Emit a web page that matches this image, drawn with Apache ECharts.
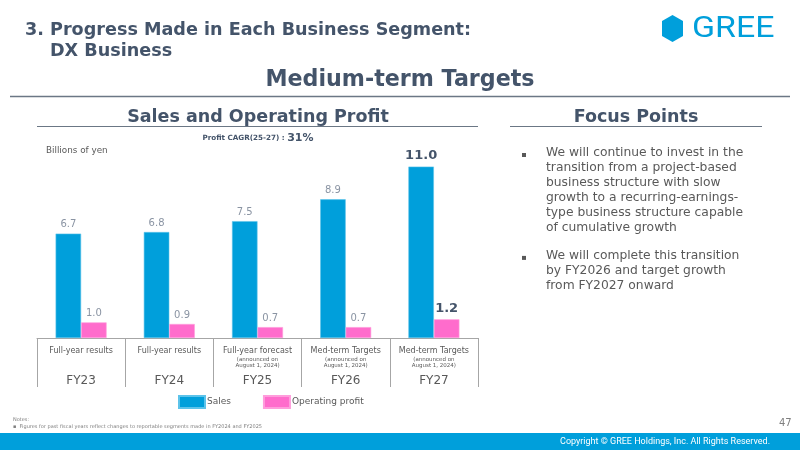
<!DOCTYPE html>
<html>
<head>
<meta charset="utf-8">
<script src="https://cdn.jsdelivr.net/npm/echarts@6/dist/echarts.min.js"></script>
<style>
  html, body { margin: 0; padding: 0; background: #fff; }
  #main { width: 800px; height: 450px; }
</style>
</head>
<body>
<div id="main"></div>
<script>
// data
var periods = ['Full-year results', 'Full-year results', 'Full-year forecast', 'Med-term Targets', 'Med-term Targets'];
var notes = [false, false, true, true, true];
var years = ['FY23', 'FY24', 'FY25', 'FY26', 'FY27'];
var sales = [6.7, 6.8, 7.5, 8.9, 11.0];
var profit = [1.0, 0.9, 0.7, 0.7, 1.2];
var focusPoints = [
  ['We will continue to invest in the', 'transition from a project-based', 'business structure with slow',
   'growth to a recurring-earnings-', 'type business structure capable', 'of cumulative growth'],
  ['We will complete this transition', 'by FY2026 and target growth', 'from FY2027 onward']
];

var blue = '#009fdb';
var pink = '#ff6ccc';
var dark = '#44546a';
var grey = '#595959';
var FONT = 'DejaVu Sans';

var chart = echarts.init(document.getElementById('main'));

// x labels: period / note lines / fiscal year
var catLabels = periods.map(function (p, i) {
  return p + '|' + i;
});

function valueData(arr) {
  return arr.map(function (v, i) {
    var item = { value: v };
    if (i == arr.length - 1) {
      item.label = { fontWeight: 'bold', fontSize: 13, color: dark };
    }
    return item;
  });
}

// focus points text
var focusGraphics = [];
var y = 147;
focusPoints.forEach(function (lines) {
  focusGraphics.push({
    type: 'rect', left: 522, top: y + 6, shape: { width: 4, height: 4 },
    style: { fill: '#595959' }
  });
  lines.forEach(function (l) {
    focusGraphics.push({
      type: 'text', left: 546, top: y,
      style: { text: l, font: '12.3px "DejaVu Sans"', fill: grey }
    });
    y += 14.9;
  });
  y += 13.5;
});

var option = {
  animation: false,
  grid: { left: 37, right: 322, top: 151, bottom: 112 },
  legend: {
    left: 178, top: 395, padding: 0,
    itemWidth: 26, itemHeight: 12, itemGap: 32,
    icon: 'rect',
    textStyle: { fontFamily: FONT, fontSize: 9, color: grey, padding: [0, 0, 0, -3] },
    data: ['Sales', 'Operating profit']
  },
  xAxis: {
    type: 'category',
    data: catLabels,
    axisLine: { lineStyle: { color: '#a6a6a6', width: 1 } },
    axisTick: { show: true, length: 49, lineStyle: { color: '#a6a6a6' } },
    axisLabel: {
      margin: 7,
      interval: 0,
      formatter: function (v) {
        var parts = v.split('|');
        var i = +parts[1];
        var sub1 = notes[i] ? '(announced on' : ' ';
        var sub2 = notes[i] ? 'August 1, 2024)' : ' ';
        return '{a|' + parts[0] + '}\n{b|' + sub1 + '}\n{b|' + sub2 + '}\n{c|' + years[i] + '}';
      },
      rich: {
        a: { fontFamily: FONT, fontSize: 8, lineHeight: 11, color: grey },
        b: { fontFamily: FONT, fontSize: 5.5, lineHeight: 6.5, color: grey },
        c: { fontFamily: FONT, fontSize: 12, lineHeight: 24, color: grey, verticalAlign: 'middle' }
      }
    }
  },
  yAxis: {
    type: 'value', min: 0, max: 12, show: false,
    splitLine: { show: false }
  },
  series: [
    {
      name: 'Sales', type: 'bar', barWidth: 25.5, barGap: '0%',
      itemStyle: { color: blue, borderColor: '#5cc3ea', borderWidth: 0.6 },
      label: { show: true, position: 'top', distance: 4, formatter: function (p) { return p.value.toFixed(1); },
        fontFamily: FONT, fontSize: 10, color: '#8a94a3' },
      data: valueData(sales)
    },
    {
      name: 'Operating profit', type: 'bar', barWidth: 25.5,
      itemStyle: { color: pink, borderColor: '#ff9ddc', borderWidth: 0.6 },
      label: { show: true, position: 'top', distance: 4, formatter: function (p) { return p.value.toFixed(1); },
        fontFamily: FONT, fontSize: 10, color: '#8a94a3' },
      data: valueData(profit)
    }
  ],
  graphic: [
    // header
    { type: 'text', x: 25, y: 30, style: { text: '3. Progress Made in Each Business Segment:', font: 'bold 17.6px "DejaVu Sans"', fill: dark, verticalAlign: 'middle' } },
    { type: 'text', x: 50, y: 51, style: { text: 'DX Business', font: 'bold 17.6px "DejaVu Sans"', fill: dark, verticalAlign: 'middle' } },
    { type: 'text', x: 400, y: 80, style: { text: 'Medium-term Targets', font: 'bold 22.2px "DejaVu Sans"', fill: dark, align: 'center', verticalAlign: 'middle' } },
    { type: 'line', shape: { x1: 10, y1: 96.5, x2: 790, y2: 96.5 }, style: { stroke: '#6b7785', lineWidth: 1.5 } },
    // logo
    { type: 'polygon', shape: { points: [[672.5, 15], [683, 21], [683, 36], [672.5, 42], [662, 36], [662, 21]] }, style: { fill: blue } },
    { type: 'text', x: 692, y: 14, scaleX: 1.13, style: { text: 'GREE', font: '30px Roboto', fill: blue } },
    // section headings
    { type: 'text', x: 258, y: 117, style: { text: 'Sales and Operating Profit', font: 'bold 17.5px "DejaVu Sans"', fill: dark, align: 'center', verticalAlign: 'middle' } },
    { type: 'line', shape: { x1: 37, y1: 126.5, x2: 478, y2: 126.5 }, style: { stroke: '#6b7785', lineWidth: 1 } },
    { type: 'text', x: 636, y: 117, style: { text: 'Focus Points', font: 'bold 17.5px "DejaVu Sans"', fill: dark, align: 'center', verticalAlign: 'middle' } },
    { type: 'line', shape: { x1: 510, y1: 126.5, x2: 762, y2: 126.5 }, style: { stroke: '#6b7785', lineWidth: 1 } },
    { type: 'text', x: 258, y: 138, style: {
        text: '{s|Profit CAGR(25-27) : }{p|31%}', align: 'center', verticalAlign: 'middle',
        rich: { s: { font: 'bold 7.2px "DejaVu Sans"', fill: dark }, p: { font: 'bold 11px "DejaVu Sans"', fill: dark } }
      } },
    { type: 'text', left: 46, top: 146, style: { text: 'Billions of yen', font: '8.8px "DejaVu Sans"', fill: grey } },
    // notes / footer
    { type: 'text', left: 13, top: 417, style: { text: 'Notes:', font: '5px "DejaVu Sans"', fill: '#7f7f7f' } },
    { type: 'text', left: 13, top: 424, style: { text: '\u25AA  Figures for past fiscal years reflect changes to reportable segments made in FY2024 and FY2025', font: '5px "DejaVu Sans"', fill: '#7f7f7f' } },
    { type: 'text', left: 779, top: 418, style: { text: '47', font: '10px "DejaVu Sans"', fill: '#7f7f7f' } },
    { type: 'rect', shape: { x: 0, y: 433, width: 800, height: 17 }, style: { fill: blue } },
    { type: 'text', x: 770, y: 441.5, style: { text: 'Copyright \u00A9 GREE Holdings, Inc. All Rights Reserved.', font: '9px Roboto', fill: '#fff', align: 'right', verticalAlign: 'middle' } }
  ].concat(focusGraphics)
};

chart.setOption(option);
</script>
</body>
</html>
